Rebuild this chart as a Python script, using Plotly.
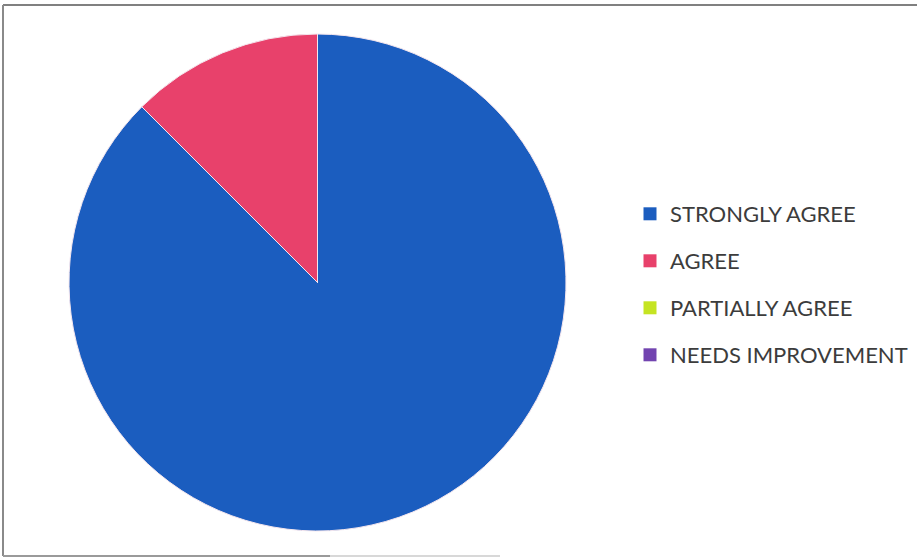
import plotly.graph_objects as go

categories = ["STRONGLY AGREE", "AGREE", "PARTIALLY AGREE", "NEEDS IMPROVEMENT"]
values = [35, 5, 0, 0]
colors = ["#1B5DBF", "#E8416B", "#C5E422", "#7244B0"]

W, H = 917, 559

def px(x):
    return x / W

def py(y):
    return 1 - y / H

fig = go.Figure()
fig.add_trace(
    go.Pie(
        labels=categories,
        values=values,
        marker=dict(colors=colors, line=dict(color="#F4E6EE", width=1)),
        sort=False,
        direction="clockwise",
        rotation=0,
        textinfo="none",
        hoverinfo="label+value",
        showlegend=False,
        domain=dict(x=[px(69), px(566)], y=[py(531), py(34)]),
    )
)
# legend entries (one group per category so spacing can be set)
for cat, col in zip(categories, colors):
    fig.add_trace(
        go.Scatter(
            x=[None], y=[None], mode="markers", name=cat, legendgroup=cat,
            marker=dict(symbol="square", size=13, color=col),
            showlegend=True, hoverinfo="skip",
        )
    )

fig.update_layout(
    width=W,
    height=H,
    margin=dict(l=0, r=0, t=0, b=0),
    paper_bgcolor="white",
    plot_bgcolor="white",
    xaxis=dict(visible=False),
    yaxis=dict(visible=False),
    showlegend=True,
    legend=dict(
        x=px(630),
        y=py(193),
        xanchor="left",
        yanchor="top",
        font=dict(family="Lato", size=22, color="#3C3C3C"),
        bgcolor="rgba(0,0,0,0)",
        itemwidth=30,
        traceorder="grouped",
        tracegroupgap=15.4,
    ),
    shapes=[
        dict(type="line", xref="paper", yref="paper", x0=px(3), x1=1, y0=py(5), y1=py(5),
             line=dict(color="#808080", width=2)),
        dict(type="line", xref="paper", yref="paper", x0=px(3), x1=px(3), y0=py(5), y1=py(556),
             line=dict(color="#8A8A8A", width=2)),
        dict(type="line", xref="paper", yref="paper", x0=px(3), x1=px(330), y0=py(556), y1=py(556),
             line=dict(color="#9A9A9A", width=2)),
        dict(type="line", xref="paper", yref="paper", x0=px(330), x1=px(500), y0=py(556), y1=py(556),
             line=dict(color="#D8D8D8", width=2)),
    ],
)

fig.write_html(
    "out.html",
    config={"displayModeBar": False},
    post_script="document.body.style.margin='0px';",
)
